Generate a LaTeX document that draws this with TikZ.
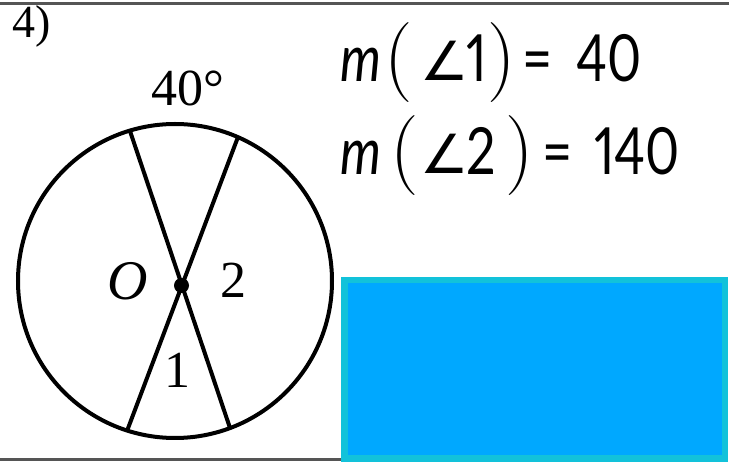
\documentclass[tikz,border=0pt]{standalone}
\usepackage{fontspec}
\newfontfamily\serif{Liberation Serif}
\newfontfamily\eqfont[FakeStretch=0.8,Numbers=Proportional]{Lato}
\newfontfamily\angfont{DejaVu Sans}
\definecolor{boxfill}{HTML}{00A8FF}
\definecolor{boxedge}{HTML}{12C2DA}
\definecolor{rulegray}{HTML}{555555}
\tikzset{
  rulestyle/.style={draw=rulegray, line width=2.5pt},
  geo/.style={draw=black, line width=4pt},
  lbl/.style={inner sep=0pt, anchor=base, font=\serif\fontsize{52}{58}\selectfont},
  eq/.style={inner sep=0pt, anchor=base west, font=\eqfont\fontsize{65}{72}\selectfont},
  par/.style={inner sep=0pt, anchor=base west, font=\rmfamily\fontsize{80}{90}\selectfont},
  ang/.style={inner sep=0pt, anchor=base west, font=\angfont\fontsize{54}{60}\selectfont},
}
\begin{document}
\begin{tikzpicture}[x=1pt,y=-1pt]
\useasboundingbox (0,0) rectangle (729,462);
% frame rules
\coordinate (t1) at (0,3.5);
\coordinate (t2) at (729,3.5);
\coordinate (b1) at (0,459.5);
\coordinate (b2) at (342,459.5);
\draw[rulestyle] (t1) -- (t2);
\draw[rulestyle] (b1) -- (b2);
% blue box
\fill[boxfill] (341,277) rectangle (728,462);
\draw[boxedge, line width=6.5pt] (344.25,280.25) rectangle (724.75,458.75);
% circle
\coordinate (C) at (175,281);
\draw[geo] (C) circle (157);
\coordinate (A) at (130,131);
\coordinate (B) at (238,137);
\coordinate (P) at (127,431);
\coordinate (D) at (230,428);
\draw[geo] (A) -- (D);
\draw[geo] (B) -- (P);
\fill (181.5,285.5) circle (7.5);
% labels
\node[lbl] (n40) at (188,106) {40°};
\node[lbl, font=\serif\fontsize{56}{62}\selectfont\itshape] (nO) at (128,300) {O};
\node[lbl] (n2) at (233,298) {2};
\node[lbl] (n1) at (177,388) {1};
\node[inner sep=0pt, anchor=base west, font=\serif\fontsize{46}{50}\selectfont] (num) at (12,38) {4)};
% equation 1
\node[eq] (m1) at (340,82) {\itshape m};
\node[par] (lp1) at (384,83) {(};
\node[ang] (a1) at (420,81) {∠};
\node[eq] (d1) at (466,82) {1};
\node[par] (rp1) at (487,83) {)};
\node[eq] (q1) at (522,82) {=};
\node[eq] (v1) at (576,82) {40};
% equation 2
\node[eq] (m2) at (340,175) {\itshape m};
\node[par] (lp2) at (390,176) {(};
\node[ang] (a2) at (420,174) {∠};
\node[eq] (d2) at (466,175) {2};
\node[par] (rp2) at (505,176) {)};
\node[eq] (q2) at (542,175) {=};
\node[eq] (v2) at (594,175) {140};
\end{tikzpicture}
\end{document}
